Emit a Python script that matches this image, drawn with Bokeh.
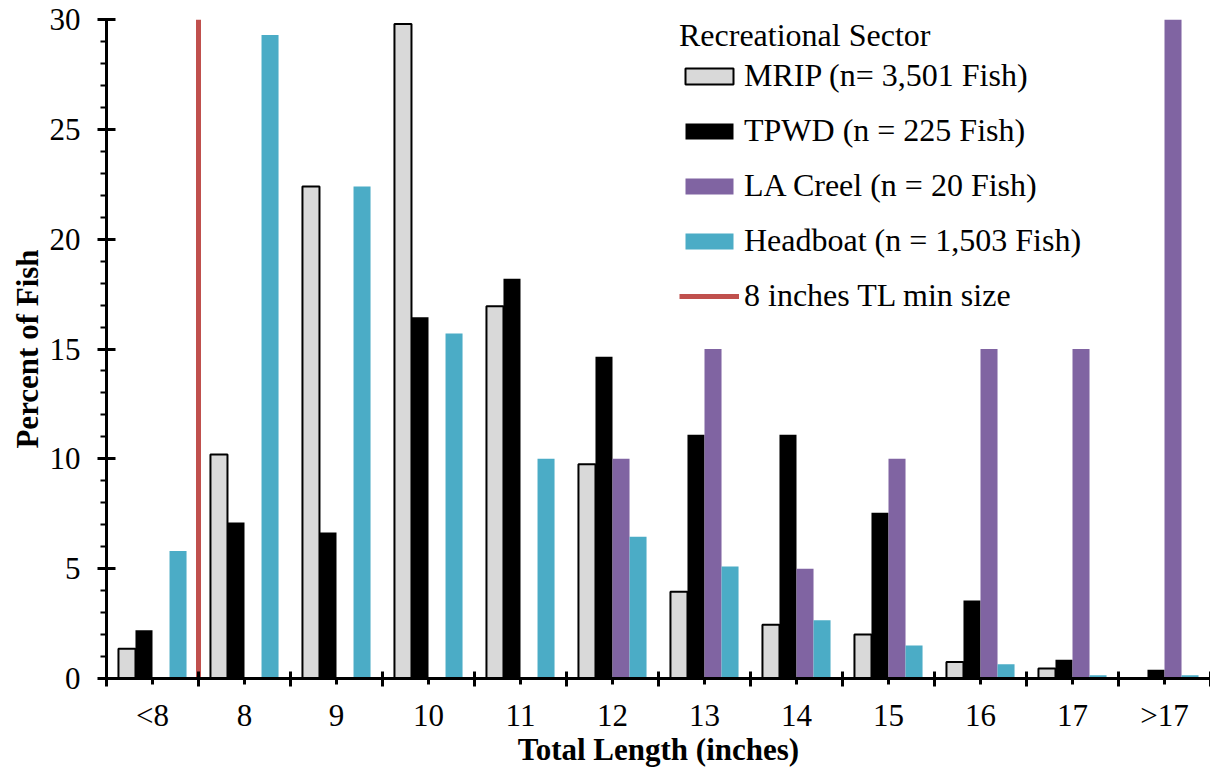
from bokeh.plotting import figure
from bokeh.models import FixedTicker, Legend, LegendItem, Range1d
from bokeh.embed import file_html
from bokeh.resources import INLINE
import numpy as np

# ---- data ----
categories = ["<8", "8", "9", "10", "11", "12", "13", "14", "15", "16", "17", ">17"]
mrip = [1.35, 10.2, 22.4, 29.8, 16.95, 9.75, 3.95, 2.45, 2.0, 0.75, 0.45, 0.0]
tpwd = [2.2, 7.1, 6.65, 16.45, 18.2, 14.65, 11.1, 11.1, 7.55, 3.55, 0.85, 0.4]
la_creel = [0, 0, 0, 0, 0, 10, 15, 5, 10, 15, 15, 30]
headboat = [5.8, 29.3, 22.4, 15.7, 10.0, 6.45, 5.1, 2.65, 1.5, 0.65, 0.15, 0.15]
series_labels = ["MRIP (n= 3,501 Fish)", "TPWD (n = 225 Fish)",
                 "LA Creel (n = 20 Fish)", "Headboat (n = 1,503 Fish)"]
min_size_label = "8 inches TL min size"
min_size_category = "8"      # the minimum size falls at the lower edge of this bin
y_ticks = [0, 5, 10, 15, 20, 25, 30]

FONT = "Liberation Serif"
colors = ["#D9D9D9", "#000000", "#8064A2", "#4BACC6"]

n = len(categories)
centers = np.arange(n) + 0.5
bounds = np.arange(n + 1)
bar_w = 0.185
offsets = [-1.5 * bar_w, -0.5 * bar_w, 0.5 * bar_w, 1.5 * bar_w]

p = figure(width=1210, height=769, output_backend="svg", toolbar_location=None,
           x_range=Range1d(0, n), y_range=Range1d(0, max(y_ticks)),
           min_border_left=106, min_border_right=0, min_border_top=19, min_border_bottom=60)
p.xgrid.visible = False
p.ygrid.visible = False
p.outline_line_color = None
p.background_fill_color = "white"

renderers = []
for vals, off, col in zip([mrip, tpwd, la_creel, headboat], offsets, colors):
    if col == "#D9D9D9":
        r = p.vbar(x=centers + off, top=vals, width=bar_w, fill_color=col,
                   line_color="black", line_width=2)
    else:
        r = p.vbar(x=centers + off, top=vals, width=bar_w, fill_color=col,
                   line_color=None)
    renderers.append(r)

min_x = float(categories.index(min_size_category))
line_r = p.segment(x0=[min_x], y0=[0], x1=[min_x], y1=[max(y_ticks)],
                   line_color="#C0504D", line_width=5)

# axes
xa = p.xaxis[0]
xa.ticker = FixedTicker(ticks=list(centers), minor_ticks=list(bounds))
xa.major_label_overrides = {float(c): lab for c, lab in zip(centers, categories)}
xa.major_tick_in = 0
xa.major_tick_out = 6
xa.minor_tick_in = 7
xa.minor_tick_out = 8
xa.axis_line_width = 3
xa.axis_line_color = "black"
xa.major_tick_line_width = 3
xa.minor_tick_line_width = 3
xa.major_label_text_font = FONT
xa.major_label_text_font_size = "31px"
xa.major_label_text_color = "black"
xa.major_label_standoff = 11
xa.axis_label = "Total Length (inches)"
xa.axis_label_text_font = FONT
xa.axis_label_text_font_size = "31px"
xa.axis_label_text_font_style = "bold"
xa.axis_label_standoff = -4
xa.axis_label_text_color = "black"

ya = p.yaxis[0]
ya.ticker = FixedTicker(ticks=y_ticks, minor_ticks=list(range(0, max(y_ticks) + 1)))
ya.major_tick_in = 9
ya.major_tick_out = 9
ya.minor_tick_in = 0
ya.minor_tick_out = 6
ya.axis_line_width = 3
ya.axis_line_color = "black"
ya.major_tick_line_width = 3
ya.minor_tick_line_width = 2
ya.major_label_text_font = FONT
ya.major_label_text_font_size = "31px"
ya.major_label_text_color = "black"
ya.major_label_standoff = 17
ya.axis_label = "Percent of Fish"
ya.axis_label_text_font = FONT
ya.axis_label_text_font_size = "31px"
ya.axis_label_text_font_style = "bold"
ya.axis_label_standoff = 2
ya.axis_label_text_color = "black"

items = [LegendItem(label=lab, renderers=[r]) for lab, r in zip(series_labels, renderers)]
items.append(LegendItem(label=min_size_label, renderers=[line_r]))
legend = Legend(items=items, title="Recreational Sector", location=(573, 364),
                border_line_color=None, background_fill_alpha=0,
                label_text_font=FONT, label_text_font_size="32px",
                label_text_color="black",
                title_text_font=FONT, title_text_font_size="32px",
                title_text_color="black",
                title_text_font_style="normal", glyph_width=60, glyph_height=20,
                label_standoff=5, label_height=36, spacing=18, padding=0, margin=0,
                title_standoff=3)
p.add_layout(legend)

open("out.html", "w").write(file_html(p, INLINE))
